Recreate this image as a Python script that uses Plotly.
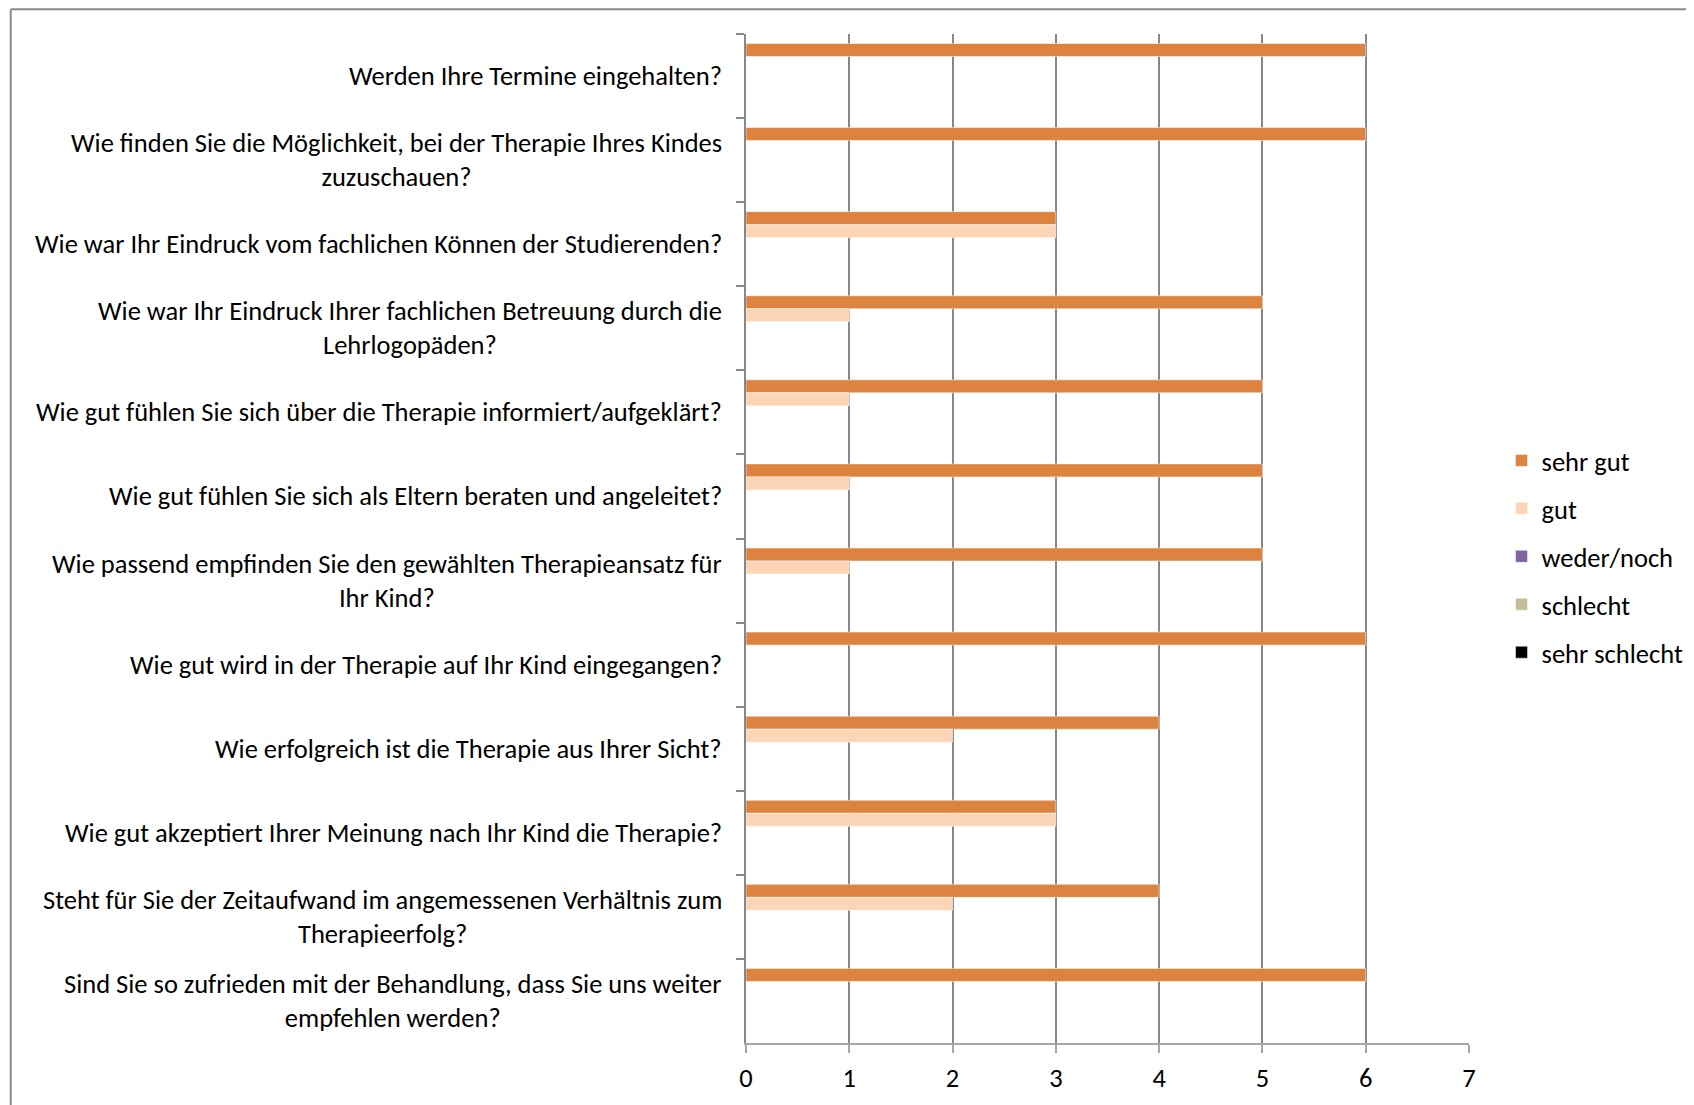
import plotly.graph_objects as go

categories = [
    "Werden Ihre Termine eingehalten?",
    "Wie finden Sie die Möglichkeit, bei der Therapie Ihres Kindes<br>zuzuschauen?",
    "Wie war Ihr Eindruck vom fachlichen Können der Studierenden?",
    "Wie war Ihr Eindruck Ihrer fachlichen Betreuung durch die<br>Lehrlogopäden?",
    "Wie gut fühlen Sie sich über die Therapie informiert/aufgeklärt?",
    "Wie gut fühlen Sie sich als Eltern beraten und angeleitet?",
    "Wie passend empfinden Sie den gewählten Therapieansatz für<br>Ihr Kind?",
    "Wie gut wird in der Therapie auf Ihr Kind eingegangen?",
    "Wie erfolgreich ist die Therapie aus Ihrer Sicht?",
    "Wie gut akzeptiert Ihrer Meinung nach Ihr Kind die Therapie?",
    "Steht für Sie der Zeitaufwand im angemessenen Verhältnis zum<br>Therapieerfolg?",
    "Sind Sie so zufrieden mit der Behandlung, dass Sie uns weiter<br>empfehlen werden?",
]

sehr_gut = [6, 6, 3, 5, 5, 5, 5, 6, 4, 3, 4, 6]
gut = [0, 0, 3, 1, 1, 1, 1, 0, 2, 3, 2, 0]
weder_noch = [0] * 12
schlecht = [0] * 12
sehr_schlecht = [0] * 12

series_names = ["sehr gut", "gut", "weder/noch", "schlecht", "sehr schlecht"]
series_values = [sehr_gut, gut, weder_noch, schlecht, sehr_schlecht]
series_colors = ["#DC833F", "#FBD5B5", "#8064A2", "#C4BD97", "#000000"]

x_ticks = [0, 1, 2, 3, 4, 5, 6, 7]

FONT = "Carlito, Lato, 'Open Sans', sans-serif"
FS = 26.5

fig = go.Figure()
for name, vals, col in zip(series_names, series_values, series_colors):
    fig.add_trace(go.Bar(
        y=categories, x=vals, name=name, orientation="h",
        marker=dict(color=col, line=dict(color="rgba(255,255,255,0.5)", width=1)),
        legendgroup=name,
    ))

for c in categories:
    fig.add_annotation(
        x=0, xref="paper", y=c, yref="y", text=c, showarrow=False,
        xanchor="right", yanchor="middle", align="center", xshift=-22,
        font=dict(family=FONT, size=FS, color="#000000"),
    )

# outer chart border (top and left edges visible)
fig.add_shape(type="line", xref="paper", yref="paper", x0=-1.017, x1=1.4,
              y0=1.0245, y1=1.0245, line=dict(color="#8a8a8a", width=2))
fig.add_shape(type="line", xref="paper", yref="paper", x0=-1.017, x1=-1.017,
              y0=-0.1, y1=1.0245, line=dict(color="#8a8a8a", width=2))

fig.update_layout(
    width=1694, height=1105,
    margin=dict(l=738, r=233, t=26, b=70),
    paper_bgcolor="white", plot_bgcolor="white",
    barmode="group", bargap=0.226, bargroupgap=0,
    font=dict(family=FONT, size=FS, color="#000000"),
    showlegend=True,
    legend=dict(
        x=1.045, xanchor="left", y=0.482, yanchor="middle",
        font=dict(family=FONT, size=FS, color="#000000"),
        tracegroupgap=10.5, bgcolor="rgba(0,0,0,0)",
    ),
    xaxis=dict(
        range=[0, 7], tickvals=x_ticks, ticktext=[str(t) for t in x_ticks],
        showgrid=True, gridcolor="#878787", gridwidth=2, zeroline=False,
        showline=True, linecolor="#A6A6A6", linewidth=2,
        ticks="outside", ticklen=8, tickcolor="#A6A6A6", tickwidth=2,
        tickfont=dict(family=FONT, size=FS, color="#000000"),
        ticklabelstandoff=2,
        fixedrange=True,
    ),
    yaxis=dict(
        categoryorder="array", categoryarray=categories, autorange="reversed",
        showticklabels=False, showgrid=False, zeroline=False,
        showline=True, linecolor="#878787", linewidth=2,
        ticks="outside", tickson="boundaries", ticklen=8,
        tickcolor="#878787", tickwidth=2,
        fixedrange=True,
    ),
)

fig.write_html("out.html")
